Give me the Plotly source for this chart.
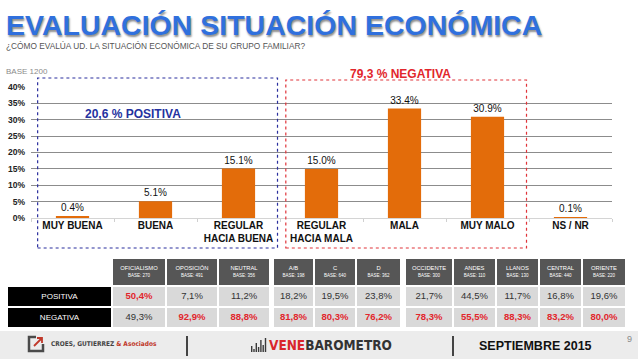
import plotly.graph_objects as go

W, H = 638, 359

# ---------------- data ----------------
categories = ["MUY BUENA", "BUENA", "REGULAR<br>HACIA BUENA", "REGULAR<br>HACIA MALA",
              "MALA", "MUY MALO", "NS / NR"]
values = [0.4, 5.1, 15.1, 15.0, 33.4, 30.9, 0.1]
y_ticks = [0, 5, 10, 15, 20, 25, 30, 35, 40]

row_labels = ["POSITIVA", "NEGATIVA"]

g1_names = ["OFICIALISMO", "OPOSICIÓN", "NEUTRAL"]
g1_bases = [270, 491, 356]
g1_pos = [50.4, 7.1, 11.2]
g1_neg = [49.3, 92.9, 88.8]

g2_names = ["A/B", "C", "D"]
g2_bases = [198, 640, 362]
g2_pos = [18.2, 19.5, 23.8]
g2_neg = [81.8, 80.3, 76.2]

g3_names = ["OCCIDENTE", "ANDES", "LLANOS", "CENTRAL", "ORIENTE"]
g3_bases = [300, 110, 130, 440, 220]
g3_pos = [21.7, 44.5, 11.7, 16.8, 19.6]
g3_neg = [78.3, 55.5, 88.3, 83.2, 80.0]

positive_total = "20,6 % POSITIVA"
negative_total = "79,3 % NEGATIVA"

# ---------------- style ----------------
FONT = "Liberation Sans, Arial, sans-serif"
NARROW = "Liberation Sans Narrow, DejaVu Sans Condensed, sans-serif"
BAR = "#E36C0A"
BLUE_T = "#3070DD"
RED = "#E2262C"
DARK_HDR = "#565656"
CELL = "#D9D9D9"

# table geometry (style): column widths in px incl. group spacers, row heights in px
LABEL_W = 105
GROUP_W = [[54, 52, 52], [41, 42, 45], [48, 43, 43, 43, 44]]
SPACER_W = [3, 4]
ROW_H = [28, 21, 21]          # header, POSITIVA, NEGATIVA
TABLE_X0, TABLE_Y0 = 7, 258


def px(x):
    return x / W


def py(y):
    return 1 - y / H


def fmt(v):
    return f"{v:.1f}".replace(".", ",") + "%"


fig = go.Figure()

fig.add_trace(go.Bar(
    x=categories, y=values, width=0.4,
    marker=dict(color=BAR, line=dict(width=0)),
    text=[f"{v:.1f}%" for v in values], textposition="outside",
    textfont=dict(size=10, color="#111111", family=FONT),
    cliponaxis=False, showlegend=False, hoverinfo="skip",
))

# ---------------- table as heatmap cells + text ----------------
groups = [(g1_names, g1_bases, g1_pos, g1_neg),
          (g2_names, g2_bases, g2_pos, g2_neg),
          (g3_names, g3_bases, g3_pos, g3_neg)]

widths = [LABEL_W]
z_hdr, z_pos, z_neg = [None], [1], [1]
hdr_x, hdr_t = [], []
val_x, val_y, val_t, val_c = [], [], [], []
for gi, (names, bases, pos, neg) in enumerate(groups):
    if gi > 0:
        widths.append(SPACER_W[gi - 1])
        z_hdr.append(None); z_pos.append(None); z_neg.append(None)
    for k, _ in enumerate(names):
        widths.append(GROUP_W[gi][k])
        z_hdr.append(0); z_pos.append(2); z_neg.append(2)
x_edges = [0]
for w_ in widths:
    x_edges.append(x_edges[-1] + w_)
y_edges = [0]
for h_ in ROW_H:
    y_edges.append(y_edges[-1] + h_)
x_cent = [(a + b) / 2 for a, b in zip(x_edges[:-1], x_edges[1:])]
y_cent = [(a + b) / 2 for a, b in zip(y_edges[:-1], y_edges[1:])]

col = 1
for gi, (names, bases, pos, neg) in enumerate(groups):
    if gi > 0:
        col += 1
    for n, b, p, q in zip(names, bases, pos, neg):
        hdr_x.append(x_cent[col])
        hdr_t.append(f"{n}<br><span style='font-size:4.5px'>BASE: {b}</span>")
        for yy, v in ((y_cent[1], p), (y_cent[2], q)):
            val_x.append(x_cent[col]); val_y.append(yy)
            val_t.append(f"<b>{fmt(v)}</b>" if v > 50 else fmt(v))
            val_c.append(RED if v > 50 else "#333333")
        col += 1

fig.add_trace(go.Heatmap(
    x=x_edges, y=y_edges, z=[z_hdr, z_pos, z_neg], xaxis="x2", yaxis="y2",
    zmin=0, zmax=2, colorscale=[[0, DARK_HDR], [0.5, "#000000"], [1, CELL]],
    xgap=2, ygap=2, showscale=False, hoverinfo="skip",
))
fig.add_trace(go.Scatter(
    x=hdr_x, y=[y_cent[0]] * len(hdr_x), text=hdr_t, mode="text", xaxis="x2", yaxis="y2",
    textposition="middle center", textfont=dict(size=5.8, color="white", family=FONT),
    hoverinfo="skip", showlegend=False,
))
fig.add_trace(go.Scatter(
    x=val_x, y=val_y, text=val_t, mode="text", xaxis="x2", yaxis="y2",
    textposition="middle center", textfont=dict(size=9.5, color=val_c, family=FONT),
    hoverinfo="skip", showlegend=False,
))
fig.add_trace(go.Scatter(
    x=[x_cent[0]] * 2, y=y_cent[1:], text=row_labels, mode="text", xaxis="x2", yaxis="y2",
    textposition="middle center", textfont=dict(size=8, color="white", family=FONT),
    hoverinfo="skip", showlegend=False,
))

P = dict(xref="paper", yref="paper")

shapes = []
shapes.append(dict(type="rect", **P, x0=0, x1=1, y0=0, y1=py(331),
                   fillcolor="#ECECEC", line=dict(width=0), layer="below"))
shapes.append(dict(type="rect", xref="x", yref="paper", x0=-0.42, x1=2.47, y0=py(248), y1=py(78),
                   line=dict(color="#2B2F9E", width=1.2, dash="dot"), fillcolor="rgba(0,0,0,0)"))
shapes.append(dict(type="rect", xref="x", yref="paper", x0=2.57, x1=5.47, y0=py(248), y1=py(80),
                   line=dict(color="#E0343A", width=1.2, dash="dot"), fillcolor="rgba(0,0,0,0)"))
for sx in (187, 453):
    shapes.append(dict(type="line", **P, x0=px(sx), x1=px(sx),
                       y0=py(356), y1=py(336), line=dict(color="#444", width=2)))
shapes.append(dict(type="path", **P,
                   path=f"M {px(36)},{py(337)} L {px(29)},{py(337)} L {px(29)},{py(351)} "
                        f"L {px(43)},{py(351)} L {px(43)},{py(344)}",
                   line=dict(color="#4A4A4A", width=2.5)))
shapes.append(dict(type="path", **P,
                   path=f"M {px(34)},{py(346)} L {px(42)},{py(338)} M {px(37)},{py(338)} L {px(42)},{py(338)} L {px(42)},{py(343)}",
                   line=dict(color="#C0392B", width=1.8)))
icon_heights = [6, 3, 9, 5, 12, 7, 14]
for i, hgt in enumerate(icon_heights):
    shapes.append(dict(type="rect", **P,
                       x0=px(251 + i * 2.3), x1=px(252.4 + i * 2.3), y0=py(352), y1=py(352 - hgt),
                       fillcolor="#3A3A3A", line=dict(width=0)))

ann = []
ann.append(dict(text="<b>EVALUACIÓN SITUACIÓN ECONÓMICA</b>", **P, x=px(4), y=py(25), xanchor="left",
                yanchor="middle", showarrow=False,
                font=dict(size=28.5, color=BLUE_T, family=FONT, shadow="1px 2px 2px rgba(0,0,0,0.45)")))
ann.append(dict(text="¿CÓMO EVALÚA UD. LA SITUACIÓN ECONÓMICA DE SU GRUPO FAMILIAR?", **P, x=px(4), y=py(46),
                xanchor="left", yanchor="middle", showarrow=False,
                font=dict(size=8.3, color="#555555", family=FONT)))
ann.append(dict(text="BASE 1200", **P, x=px(4), y=py(72), xanchor="left", yanchor="middle", showarrow=False,
                font=dict(size=8, color="#8A8A8A", family=FONT)))
ann.append(dict(text=f"<b>{positive_total}</b>", **P, x=px(133), y=py(114), xanchor="center", yanchor="middle",
                showarrow=False, font=dict(size=12, color="#2432A0", family=FONT)))
ann.append(dict(text=f"<b>{negative_total}</b>", **P, x=px(400), y=py(74), xanchor="center", yanchor="middle",
                showarrow=False, font=dict(size=12, color=RED, family=FONT)))
ann.append(dict(text="<b><span style='color:#444'>CROES, GUTIERREZ</span> <span style='color:#C0392B'>&amp; Asociados</span></b>",
                **P, x=px(49), y=py(344), xanchor="left", yanchor="middle", showarrow=False,
                font=dict(size=6.5, family=NARROW)))
ann.append(dict(text="<b><span style='color:#D9262B'>VENE</span><span style='color:#333'>BAROMETRO</span></b>",
                **P, x=px(267), y=py(345), xanchor="left", yanchor="middle", showarrow=False,
                font=dict(size=13.5, family=NARROW)))
ann.append(dict(text="<b>SEPTIEMBRE 2015</b>", **P, x=px(535), y=py(346), xanchor="center", yanchor="middle",
                showarrow=False, font=dict(size=12.5, color="#111", family=FONT)))
ann.append(dict(text="9", **P, x=px(629), y=py(339), xanchor="center", yanchor="middle",
                showarrow=False, font=dict(size=9, color="#8A8A8A", family=FONT)))

tbl_w = x_edges[-1]
tbl_h = y_edges[-1]
fig.update_layout(
    width=W, height=H, margin=dict(l=0, r=0, t=0, b=0, autoexpand=False),
    paper_bgcolor="white", plot_bgcolor="rgba(0,0,0,0)",
    showlegend=False, bargap=0.6,
    shapes=shapes, annotations=ann,
    xaxis=dict(domain=[px(31), px(612)], showgrid=False, showline=False, automargin=False,
               ticks="outside", tickson="boundaries", ticklen=3, tickcolor="#D0D0D0",
               tickfont=dict(size=10, color="#111", family=FONT, weight="bold"),
               fixedrange=True),
    yaxis=dict(domain=[py(218), py(87)], range=[0, 40], tickvals=y_ticks, automargin=False,
               ticktext=[f"{t}%" for t in y_ticks], showgrid=True, gridcolor="#8C8C8C",
               gridwidth=1, zeroline=True, zerolinecolor="#D4D4D4", zerolinewidth=1,
               showline=False, ticks="", ticklabelstandoff=5,
               tickfont=dict(size=8.5, color="#222", family=FONT, weight="bold"),
               fixedrange=True),
    xaxis2=dict(domain=[px(TABLE_X0), px(TABLE_X0 + tbl_w)], range=[0, tbl_w], visible=False,
                anchor="y2", fixedrange=True, automargin=False),
    yaxis2=dict(domain=[py(TABLE_Y0 + tbl_h), py(TABLE_Y0)], range=[tbl_h, 0], visible=False,
                anchor="x2", fixedrange=True, automargin=False),
)

fig.write_html("out.html", config={"displayModeBar": False},
               post_script="document.body.style.margin='0px';")
